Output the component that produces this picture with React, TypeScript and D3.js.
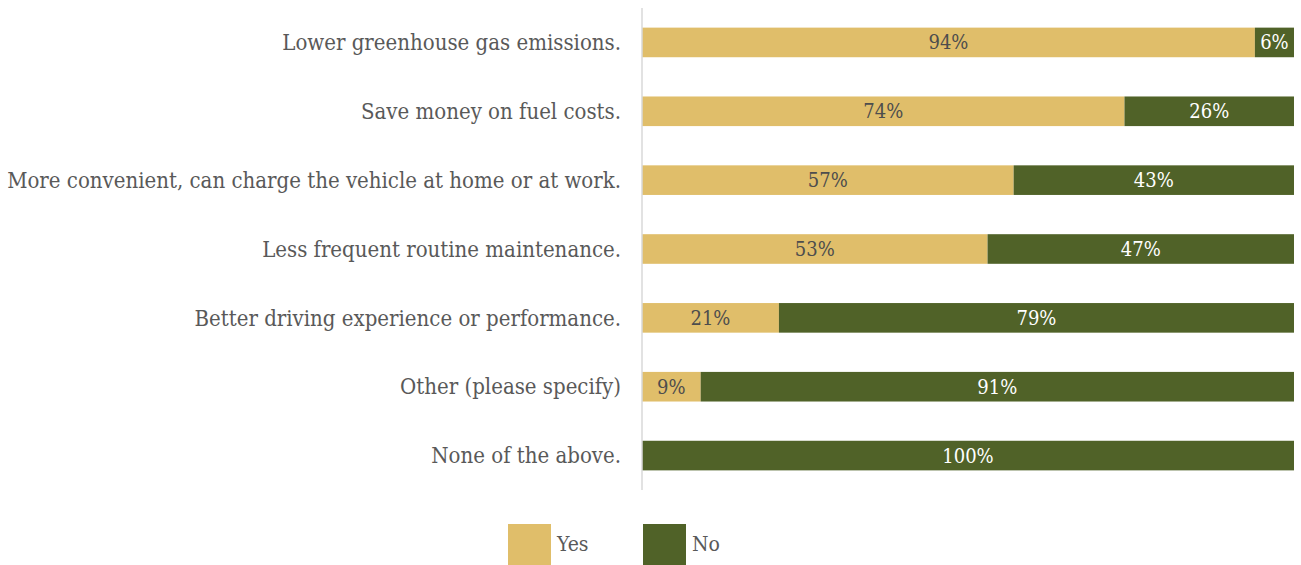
import React from "react";
import * as d3 from "d3";

const categories = [
  "Lower greenhouse gas emissions.",
  "Save money on fuel costs.",
  "More convenient, can charge the vehicle at home or at work.",
  "Less frequent routine maintenance.",
  "Better driving experience or performance.",
  "Other (please specify)",
  "None of the above.",
];
const yesValues = [94, 74, 57, 53, 21, 9, 0];
const noValues = [6, 26, 43, 47, 79, 91, 100];
const seriesNames = ["Yes", "No"];
const seriesColors = ["#E0BE6A", "#506228"];
const labelColors = ["#4D4D4D", "#FFFFFF"];

const W = 1301;
const H = 565;
const FONT = "'DejaVu Serif', 'Liberation Serif', serif";

export default function App() {
  const x = d3.scaleLinear().domain([0, 100]).range([642, 1294]);
  const y = d3.scaleBand<string>().domain(categories).range([8, 490]).paddingInner(0.57).paddingOuter(0.285);
  const rows = categories.map((c, i) => ({ c, yes: yesValues[i], no: noValues[i] }));
  const stack = d3.stack<any>().keys(["yes", "no"])(rows as any);

  return (
    <svg width={W} height={H} style={{ position: "absolute", left: 0, top: 0, background: "#fff" }} fontFamily={FONT} fontStretch="condensed">
      {stack.map((s, si) => (
        <g key={si}>
          {s.map((d, i) => {
            const v = d[1] - d[0];
            if (v <= 0) return null;
            const x0 = x(d[0]);
            const x1 = x(d[1]);
            const yy = y(categories[i])!;
            return (
              <g key={i}>
                <rect x={x0} y={yy} width={x1 - x0} height={y.bandwidth()} fill={seriesColors[si]} />
                <text
                  x={(x0 + x1) / 2}
                  y={yy + y.bandwidth() / 2}
                  dy="0.35em"
                  textAnchor="middle"
                  fontSize={20}
                  fill={labelColors[si]}
                >
                  {v}%
                </text>
              </g>
            );
          })}
        </g>
      ))}
      <line x1={642} x2={642} y1={8} y2={490} stroke="#D9D9D9" strokeWidth={1.5} />
      {categories.map((c) => (
        <text key={c} x={621} y={y(c)! + y.bandwidth() / 2} dy="0.35em" textAnchor="end" fontSize={22} fill="#595959">
          {c}
        </text>
      ))}
      {seriesNames.map((n, i) => {
        const lx = i === 0 ? 508 : 643;
        return (
          <g key={n}>
            <rect x={lx} y={524} width={43} height={41} fill={seriesColors[i]} />
            <text x={lx + 49} y={544} dy="0.35em" fontSize={21} fill="#595959">
              {n}
            </text>
          </g>
        );
      })}
    </svg>
  );
}
